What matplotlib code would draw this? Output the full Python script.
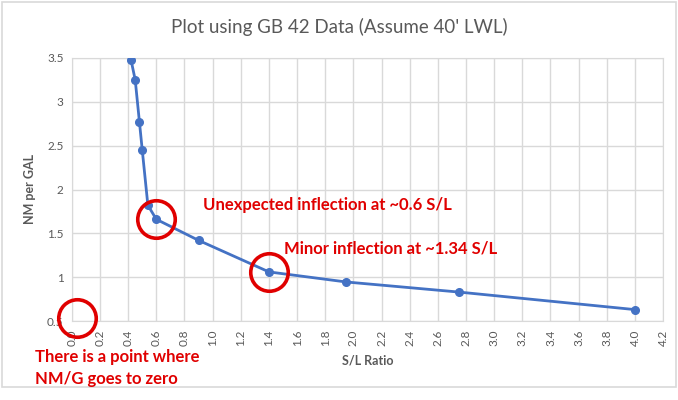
import matplotlib
matplotlib.use("Agg")
import matplotlib.pyplot as plt
from matplotlib.patches import Rectangle

plt.rcParams['font.family'] = ['Lato', 'DejaVu Sans']

# Data
sl_ratio = [0.42, 0.45, 0.48, 0.50, 0.54, 0.60, 0.90, 1.40, 1.95, 2.75, 4.00]
nm_per_gal = [3.48, 3.25, 2.77, 2.45, 1.82, 1.66, 1.42, 1.06, 0.945, 0.83, 0.63]

circle_x = [0.60, 1.40, 0.04]
circle_y = [1.66, 1.06, 0.53]

title = "Plot using GB 42 Data (Assume 40' LWL)"
xlabel = "S/L Ratio"
ylabel = "NM per GAL"
note1 = "Unexpected inflection at ~0.6 S/L"
note2 = "Minor inflection at ~1.34 S/L"
note3 = "There is a point where\nNM/G goes to zero"

fig = plt.figure(figsize=(6.78, 4.0), dpi=100)
ax = fig.add_axes([0.106, 0.1975, 0.872, 0.6575])

grid_c = '#d9d9d9'
text_c = '#595959'
red = '#e00000'

ax.plot(sl_ratio, nm_per_gal, color='#4472C4', lw=2, marker='o', ms=5.5, zorder=3)
ax.plot(circle_x, circle_y, ls='none', marker='o', ms=27, mfc='none', mec=red,
        mew=2.6, clip_on=False, zorder=4)

ax.set_xlim(0, 4.2)
ax.set_ylim(0.5, 3.5)
xt = [i * 0.2 for i in range(22)]
ax.set_xticks(xt)
ax.set_xticklabels([f"{v:.1f}" for v in xt], rotation=90)
yt = [0.5, 1, 1.5, 2, 2.5, 3, 3.5]
ax.set_yticks(yt)
ax.set_yticklabels(["0.5", "1", "1.5", "2", "2.5", "3", "3.5"])
ax.grid(True, color=grid_c, lw=1)
ax.set_axisbelow(True)
for s in ax.spines.values():
    s.set_color(grid_c)
ax.tick_params(length=0, colors=text_c, labelsize=8.5, pad=6)

ax.set_xlabel(xlabel, fontsize=9, fontweight='bold', color=text_c, labelpad=6)
ax.set_ylabel(ylabel, fontsize=9, fontweight='bold', color=text_c, labelpad=8)
fig.text(0.5, 0.932, title, ha='center', va='center', fontsize=13.5, color=text_c)

ax.text(0.93, 1.82, note1, color=red, fontsize=12, fontweight='bold', va='center')
ax.text(1.51, 1.33, note2, color=red, fontsize=12, fontweight='bold', va='center')
fig.text(0.052, 0.08, note3, color=red, fontsize=12, fontweight='bold', va='center',
         linespacing=1.45)

fig.patches.append(Rectangle((0.003, 0.032), 0.994, 0.963, transform=fig.transFigure,
                             fill=False, ec='#d9d9d9', lw=1.2))

fig.savefig("out.png", dpi=100)
